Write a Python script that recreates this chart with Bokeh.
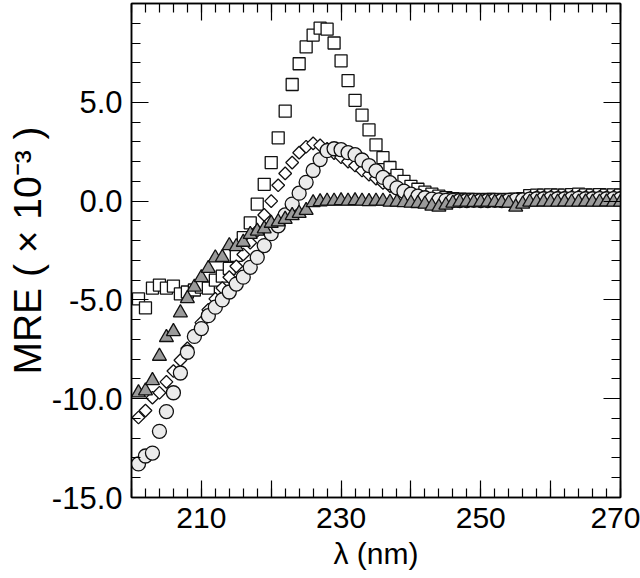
import numpy as np
from bokeh.plotting import figure
from bokeh.models import LinearAxis, FixedTicker, Range1d
from bokeh.embed import file_html
from bokeh.resources import INLINE

wavelength = list(range(201, 271))

squares = [-4.95, -5.4, -4.4, -4.25, -4.4, -4.3, -4.7, -4.6, -4.5, -4.35,
           -4.4, -4.0, -3.8, -3.4, -2.75, -1.85, -1.1, -0.15, 0.85, 1.95,
           3.2, 4.55, 5.9, 6.95, 7.8, 8.4, 8.75, 8.7, 8.0, 7.1,
           6.1, 5.1, 4.35, 3.6, 2.85, 2.2, 1.7, 1.3, 1.0, 0.75,
           0.6, 0.45, 0.35, 0.25, 0.18, 0.12, 0.1, 0.08, 0.08, 0.07,
           0.08, 0.08, 0.07, 0.08, 0.1, 0.12, 0.28, 0.3, 0.3, 0.32,
           0.3, 0.3, 0.33, 0.35, 0.32, 0.3, 0.33, 0.3, 0.32, 0.3]

diamonds = [-10.95, -10.6, -9.95, -9.7, -9.15, -8.6, -8.05, -7.45, -6.8, -6.15,
            -5.5, -4.95, -4.4, -3.85, -3.3, -2.7, -2.1, -1.5, -0.7, 0.0,
            0.8, 1.4, 1.95, 2.45, 2.75, 2.92, 2.82, 2.65, 2.43, 2.22,
            2.0, 1.8, 1.55, 1.34, 1.14, 0.92, 0.76, 0.59, 0.42, 0.3,
            0.22, 0.15, 0.1, 0.08, 0.07, 0.06, 0.06, 0.05, 0.06, 0.05,
            0.05, 0.06, 0.05, 0.06, 0.07, 0.1, 0.15, 0.2, 0.2, 0.22,
            0.2, 0.2, 0.22, 0.23, 0.2, 0.2, 0.22, 0.2, 0.22, 0.2]

circles = [-13.3, -12.9, -12.75, -11.65, -10.65, -9.7, -8.7, -7.65, -6.85, -6.45,
           -5.8, -5.37, -5.0, -4.6, -4.2, -3.85, -3.35, -2.85, -2.25, -1.65,
           -1.25, -0.7, -0.15, 0.4, 0.95, 1.55, 2.1, 2.55, 2.65, 2.6,
           2.45, 2.35, 2.08, 1.8, 1.53, 1.2, 0.93, 0.67, 0.5, 0.35,
           0.25, 0.17, 0.1, 0.06, 0.04, 0.04, 0.03, 0.03, 0.04, 0.03,
           0.03, 0.04, 0.03, 0.04, 0.05, 0.06, 0.1, 0.12, 0.12, 0.13,
           0.12, 0.12, 0.13, 0.14, 0.12, 0.12, 0.13, 0.12, 0.13, 0.12]

triangles = [-9.7, -9.6, -9.08, -7.85, -6.9, -6.6, -5.65, -4.93, -4.35, -3.87,
             -3.4, -2.87, -2.85, -2.25, -2.3, -2.08, -1.68, -1.52, -1.4, -1.12,
             -1.05, -0.92, -0.73, -0.62, -0.47, -0.08, -0.03, 0.0, 0.0, 0.02,
             0.0, 0.02, 0.0, -0.02, 0.0, 0.0, -0.05, -0.05, -0.08, -0.1,
             -0.12, -0.15, -0.25, -0.3, -0.2, -0.1, -0.05, -0.05, -0.06, -0.05,
             -0.05, -0.06, -0.08, -0.1, -0.3, -0.15, -0.05, -0.05, -0.04, -0.05,
             -0.05, -0.04, -0.05, -0.05, -0.04, -0.05, -0.05, -0.04, -0.05, -0.05]

x_major = [200, 210, 220, 230, 240, 250, 260, 270]
x_minor = [200, 202, 204, 206, 208, 210, 212, 214, 216, 218, 220, 222, 224, 226, 228,
           230, 232, 234, 236, 238, 240, 242, 244, 246, 248, 250, 252, 254, 256, 258,
           260, 262, 264, 266, 268, 270]
x_labels = {200: "", 210: "210", 220: "", 230: "230", 240: "", 250: "250", 260: "", 270: "270"}
y_major = [-15, -10, -5, 0, 5, 10]
y_minor = list(range(-15, 11))
y_labels = {-15: "-15.0", -10: "-10.0", -5: "-5.0", 0: "0.0", 5: "5.0", 10: ""}

FONT = "Liberation Sans"

p = figure(width=640, height=578, output_backend="svg", toolbar_location=None,
           x_range=Range1d(200, 270), y_range=Range1d(-15, 10),
           x_axis_location=None, y_axis_location=None)
p.frame_width = 489
p.frame_height = 494
p.min_border_left = 131
p.min_border_right = 20
p.min_border_top = 3
p.min_border_bottom = 81
p.grid.visible = False
p.outline_line_color = "black"
p.outline_line_width = 1.5
p.background_fill_color = "white"
p.border_fill_color = "white"


def style_axis(ax, labels_visible):
    ax.major_tick_in = 17
    ax.major_tick_out = 0
    ax.minor_tick_in = 9
    ax.minor_tick_out = 0
    ax.axis_line_color = "black"
    ax.axis_line_width = 1.5
    ax.major_tick_line_color = "black"
    ax.minor_tick_line_color = "black"
    ax.major_tick_line_width = 1.2
    ax.minor_tick_line_width = 1.2
    ax.major_label_text_font = FONT
    ax.major_label_text_color = "black"
    ax.axis_label_text_font = FONT
    ax.axis_label_text_font_style = "normal"
    ax.axis_label_text_color = "black"
    if not labels_visible:
        ax.major_label_text_font_size = "0px"
        ax.major_label_standoff = 0


xt = FixedTicker(ticks=x_major, minor_ticks=x_minor)
yt = FixedTicker(ticks=y_major, minor_ticks=y_minor)

xb = LinearAxis(ticker=xt, major_label_overrides=x_labels, axis_label="λ (nm)")
style_axis(xb, True)
xb.major_label_text_font_size = "30px"
xb.major_label_standoff = 10
xb.axis_label_text_font_size = "30px"
xb.axis_label_standoff = 6
p.add_layout(xb, "below")

yl = LinearAxis(ticker=yt, major_label_overrides=y_labels, axis_label="MRE ( × 10⁻³ )")
style_axis(yl, True)
yl.major_label_text_font_size = "31px"
yl.major_label_standoff = 9
yl.axis_label_text_font_size = "39px"
yl.axis_label_standoff = 0
p.add_layout(yl, "left")

xtop = LinearAxis(ticker=xt, major_label_overrides={k: "" for k in x_major})
style_axis(xtop, False)
p.add_layout(xtop, "above")

yr = LinearAxis(ticker=yt, major_label_overrides={k: "" for k in y_major})
style_axis(yr, False)
p.add_layout(yr, "right")

LC = "#111111"
LW = 1.3
p.scatter(wavelength, squares, marker="square", size=12, fill_color="white",
          line_color=LC, line_width=LW)
p.scatter(wavelength, diamonds, marker="square", size=9, angle=np.pi / 4,
          fill_color="white", line_color=LC, line_width=LW)
p.scatter(wavelength, circles, marker="circle", size=14, fill_color="#ebebeb",
          line_color=LC, line_width=LW)
p.scatter(wavelength, triangles, marker="triangle", size=14, fill_color="#9a9a9a",
          line_color=LC, line_width=LW)

open("out.html", "w").write(file_html(p, INLINE))
